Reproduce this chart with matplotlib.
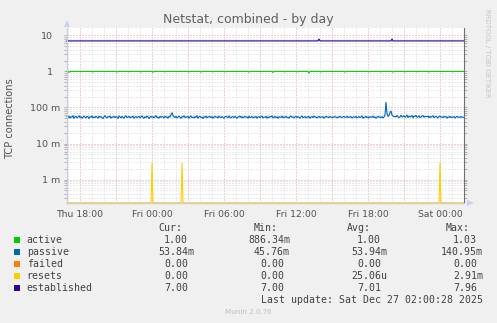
import numpy as np
import pandas as pd
import matplotlib
matplotlib.use("Agg")
import matplotlib.pyplot as plt
import matplotlib.dates as mdates
import matplotlib.transforms as mtrans
from matplotlib.patches import Polygon, Rectangle
from matplotlib.ticker import FixedLocator, NullFormatter

W, H = 497, 323

# 5 minute samples, Thu 16:55 .. Sat 02:00
start = "2025-12-25 16:55"
n_points = 398

# passive connections, in milli units
passive_m = [
    55, 52, 58, 50, 56, 53, 60, 49, 55, 57, 51, 54, 59, 52, 56, 50, 54, 58, 53, 51, 57, 55, 49, 56,
    53, 59, 51, 55, 52, 57, 54, 50, 58, 53, 56, 52, 49, 55, 60, 53, 51, 56, 54, 58, 50, 55, 53, 57,
    52, 56, 54, 49, 58, 55, 51, 57, 53, 50, 56, 59, 52, 54, 57, 51, 55, 53, 58, 50, 54, 56, 52, 55,
    57, 51, 54, 59, 53, 50, 56, 52, 58, 55, 49, 54, 57, 53, 56, 51, 55, 60, 52, 54, 50, 57, 53, 56,
    54, 51, 58, 53, 55, 50, 57, 54, 62, 72, 60, 55, 52, 57, 51, 54, 58, 53, 50, 56, 54, 59, 52, 55,
    53, 57, 50, 55, 58, 52, 54, 51, 56, 53, 59, 50, 55, 57, 52, 54, 49, 56, 53, 58, 51, 55, 54, 57,
    52, 56, 50, 54, 57, 53, 55, 51, 58, 54, 52, 56, 53, 50, 55, 57, 54, 52, 59, 53, 51, 56, 55, 52,
    57, 53, 50, 55, 54, 58, 52, 56, 51, 54, 57, 53, 55, 50, 58, 52, 54, 56, 51, 55, 53, 57, 50, 54,
    56, 52, 55, 58, 51, 54, 53, 57, 50, 55, 52, 56, 54, 59, 51, 53, 57, 52, 55, 50, 56, 54, 53, 58,
    51, 55, 53, 57, 52, 54, 50, 56, 58, 53, 55, 51, 54, 57, 52, 56, 53, 50, 55, 58, 52, 54, 56, 51,
    55, 53, 57, 50, 54, 56, 52, 58, 53, 55, 51, 54, 57, 52, 55, 53, 56, 50, 54, 57, 53, 55, 52, 56,
    54, 52, 55, 53, 56, 54, 51, 55, 53, 57, 54, 52, 55, 56, 53, 54, 57, 52, 55, 53, 56, 51, 54, 55,
    53, 57, 51, 54, 56, 52, 55, 58, 50, 54, 53, 57, 52, 55, 51, 56, 54, 53, 58, 52, 55, 50, 54, 57,
    53, 55, 52, 56, 51, 54, 62, 141, 68, 56, 60, 72, 80, 62, 58, 55, 57, 54, 60, 56, 52, 55, 61, 54,
    56, 59, 53, 57, 62, 52, 58, 54, 57, 60, 51, 58, 56, 61, 53, 55, 59, 52, 54, 58, 60, 53, 57, 56,
    55, 58, 52, 57, 53, 56, 59, 52, 55, 57, 54, 51, 56, 58, 53, 55, 52, 57, 54, 56, 50, 55, 53, 57,
    52, 55, 53, 56, 51, 54, 57, 53, 55, 52, 56, 54, 53, 54,
]

# active: 1.0 with a dip once an hour (at :05)
active_level = 1.0
active_dip_idx = list(range(2, n_points, 12))
active_dip_vals = [0.93, 0.97, 0.96, 0.98, 0.95, 0.97, 0.96, 0.94, 0.97, 0.98, 0.96,
                   0.95, 0.97, 0.96, 0.98, 0.95, 0.97, 0.93, 0.97, 0.96, 0.886, 0.96,
                   0.97, 0.95, 0.98, 0.96, 0.97, 0.95, 0.96, 0.97, 0.96, 0.98, 0.97]

established_level = 7.0
established_idx = [252, 325]
established_vals = [7.9, 7.96]

resets_idx = [85, 115, 373]
resets_vals = [2.85e-3, 2.91e-3, 2.88e-3]

names = ["active", "passive", "failed", "resets", "established"]
colors = ["#00CC00", "#0066B3", "#FF8000", "#FFCC00", "#330099"]
cur = ["1.00", "53.84m", "0.00", "0.00", "7.00"]
mins = ["886.34m", "45.76m", "0.00", "0.00", "7.00"]
avgs = ["1.00", "53.94m", "0.00", "25.06u", "7.01"]
maxs = ["1.03", "140.95m", "0.00", "2.91m", "7.96"]

ytick_vals = [10, 1, 0.1, 0.01, 0.001]
ytick_labels = ["10", "1", "100 m", "10 m", "1 m"]

ybot, ytop = 2.24e-4, 15.96


def px(x, y):
    return x / W, 1 - y / H


def main():
    t = pd.date_range(start, periods=n_points, freq="5min")

    active = np.full(n_points, active_level)
    active[active_dip_idx] = active_dip_vals
    passive = np.array(passive_m) / 1000.0
    failed = np.zeros(n_points)
    resets = np.zeros(n_points)
    resets[resets_idx] = resets_vals
    established = np.full(n_points, established_level)
    established[established_idx] = established_vals

    fig = plt.figure(figsize=(W / 100, H / 100), dpi=100, facecolor="#F0F0F0")
    ax = fig.add_axes([67 / W, 1 - 203 / H, (464 - 67) / W, (203 - 28) / H])
    ax.set_facecolor("white")
    ax.set_yscale("log")
    ax.set_ylim(ybot, ytop)
    ax.set_xlim(t[0], t[-1])

    # grid: grey every hour / 2..9, red every 3 hours / decade
    ax.yaxis.set_major_locator(FixedLocator([1e-3, 1e-2, 1e-1, 1, 10]))
    minor_y = [m * 10.0 ** e for e in range(-4, 2) for m in range(2, 10)]
    ax.yaxis.set_minor_locator(FixedLocator(minor_y))
    ax.yaxis.set_major_formatter(NullFormatter())
    ax.yaxis.set_minor_formatter(NullFormatter())
    ax.xaxis.set_major_locator(mdates.HourLocator(byhour=range(0, 24, 3)))
    ax.xaxis.set_minor_locator(mdates.HourLocator())
    ax.xaxis.set_major_formatter(NullFormatter())

    ax.grid(True, which="minor", color="#D6D6D6", lw=0.72, ls=(0, (1, 2)))
    ax.grid(True, which="major", color="#E89A9A", lw=0.72, ls=(0, (1, 2)))
    ax.set_axisbelow(True)

    ax.tick_params(axis="y", which="both", left=True, right=True, direction="out",
                   length=2, width=0.6, color="#A8A8A8", labelleft=False)
    ax.tick_params(axis="x", which="both", length=0, labelbottom=False)

    ax.spines["top"].set_visible(False)
    ax.spines["left"].set_color("#C8CCE0")
    ax.spines["bottom"].set_color("#C8CCE0")
    ax.spines["right"].set_color("#707070")
    for s in ax.spines.values():
        s.set_linewidth(0.8)

    series = [active, passive, failed, resets, established]
    for vals, c in zip(series, colors):
        ax.plot(t, np.clip(vals, ybot * 1.01, None), color=c, lw=0.8, clip_on=False,
                solid_joinstyle="miter")

    # y labels
    ytrans = mtrans.blended_transform_factory(fig.transFigure, ax.transData)
    for v, lab in zip(ytick_vals, ytick_labels):
        xr = 60 if " " in lab else 53
        fig.text(xr / W, v, lab, transform=ytrans, ha="right", va="center_baseline",
                 fontsize=6.8, color="#505050", family="DejaVu Sans")

    # x labels
    xtrans = mtrans.blended_transform_factory(ax.transData, fig.transFigure)
    for tk in pd.date_range("2025-12-25 18:00", "2025-12-27 00:00", freq="6h"):
        fig.text(mdates.date2num(tk), 1 - 216.7 / H, tk.strftime("%a %H:%M"),
                 transform=xtrans, ha="center", va="baseline", fontsize=6.7,
                 color="#505050", family="DejaVu Sans")

    # arrows
    fig.add_artist(Polygon([px(64, 27), px(70, 27), px(67, 20)], closed=True,
                           transform=fig.transFigure, color="#C8D0F4", lw=0))
    fig.add_artist(Polygon([px(467, 200), px(467, 206), px(474, 203)], closed=True,
                           transform=fig.transFigure, color="#C8D0F4", lw=0))

    fig.text(*px(248, 19), "Netstat, combined - by day", ha="center", va="center",
             fontsize=9, color="#606060", family="DejaVu Sans")
    fig.text(*px(10.5, 119), "TCP connections", rotation=90, ha="center", va="center",
             fontsize=7.1, color="#505050", family="DejaVu Sans")
    fig.text(*px(487, 53), "RRDTOOL / TOBI OETIKER", rotation=270, ha="center",
             va="center", fontsize=5, color="#C4C4C4", family="DejaVu Sans")
    fig.text(*px(248, 312), "Munin 2.0.76", ha="center", va="center", fontsize=5.1,
             color="#C0C0C0", family="DejaVu Sans")

    # legend
    mono = dict(family="DejaVu Sans Mono", fontsize=7.1, color="#404040", va="baseline")
    cw = 5.95
    headers = [("Cur:", 182), ("Min:", 278), ("Avg:", 371), ("Max:", 470)]
    for h, xr in headers:
        fig.text(*px(xr, 231), h, ha="right", **mono)
    cols = [(cur, 194), (mins, 290), (avgs, 387), (maxs, 483)]
    for i, (name, c) in enumerate(zip(names, colors)):
        yb = 243 + 12 * i
        fig.add_artist(Rectangle(px(14, yb), 6 / W, 6 / H, transform=fig.transFigure,
                                 facecolor=c, edgecolor="none"))
        fig.text(*px(26.7, yb), name, ha="left", **mono)
        for col, xr in cols:
            s = col[i]
            xs = xr if s[-1].isalpha() else xr - cw
            fig.text(*px(xs, yb), s, ha="right", **mono)
    fig.text(*px(483, 303), "Last update: Sat Dec 27 02:00:28 2025", ha="right", **mono)

    fig.savefig("out.png", dpi=100, facecolor=fig.get_facecolor())


if __name__ == "__main__":
    main()
